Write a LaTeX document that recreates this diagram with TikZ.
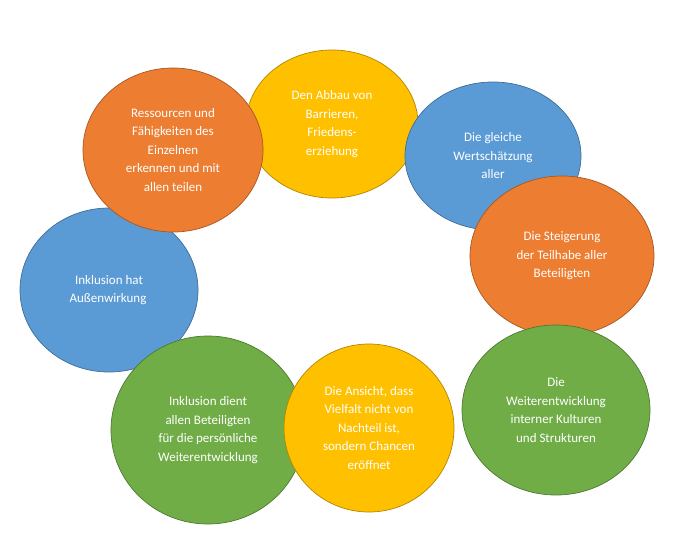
\documentclass[tikz,border=0pt]{standalone}
\usepackage{fontspec}
\setmainfont{Carlito}
\usetikzlibrary{shapes.geometric}
\definecolor{cy}{HTML}{FFC000}
\definecolor{cb}{HTML}{5B9BD5}
\definecolor{co}{HTML}{ED7D31}
\definecolor{cg}{HTML}{70AD47}
\begin{document}
\begin{tikzpicture}[x=1pt,y=-1pt,
 bub/.style={ellipse,draw=#1!70!black,fill=#1,line width=0.7pt,inner sep=0pt,text=white,align=center,font=\fontsize{13}{18.5}\selectfont}]
\useasboundingbox (0,0) rectangle (679,554);
\node[bub=cb,minimum width=178,minimum height=164] (e7) at (109,290) {Inklusion hat\\Außenwirkung\hspace*{2pt}};
\node[bub=cy,minimum width=172,minimum height=148] (e1) at (332,124) {Den Abbau von\\Barrieren,\\Friedens-\\erziehung};
\node[bub=cb,minimum width=176,minimum height=148] (e2) at (493,156) {Die gleiche\\Wertschätzung\\aller};
\node[bub=co,minimum width=184,minimum height=160] (e3) at (562,256) {Die Steigerung\\der Teilhabe aller\\Beteiligten};
\node[bub=cg,minimum width=188,minimum height=170] (e4) at (556,410) {Die\\Weiterentwicklung\\interner Kulturen\\und Strukturen};
\node[bub=cg,minimum width=194,minimum height=188] (e6) at (208,430) {Inklusion dient\\allen Beteiligten\\für die persönliche\\Weiterentwicklung};
\node[bub=cy,minimum width=170,minimum height=168] (e5) at (369,428) {Die Ansicht, dass\\Vielfalt nicht von\\Nachteil ist,\\sondern Chancen\\eröffnet};
\node[bub=co,minimum width=180,minimum height=164] (e8) at (173,150) {Ressourcen und\\Fähigkeiten des\\Einzelnen\\erkennen und mit\\allen teilen};
\end{tikzpicture}
\end{document}
